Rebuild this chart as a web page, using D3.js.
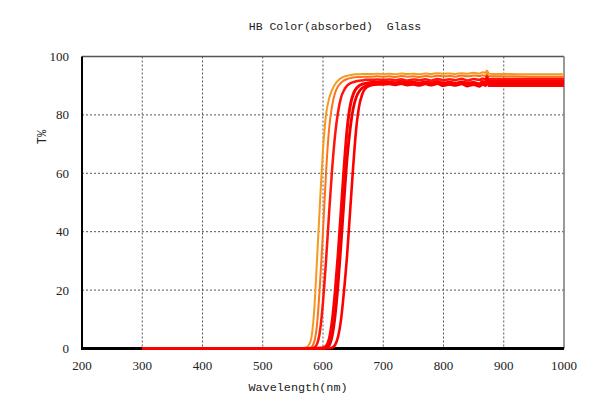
<!DOCTYPE html>
<html><head><meta charset="utf-8">
<script src="https://cdn.jsdelivr.net/npm/d3@7"></script>
<style>body{margin:0;background:#fff}svg{display:block}</style>
</head><body>
<svg id="chart" width="601" height="402"></svg>
<script>
const title = "HB Color(absorbed)  Glass";
const xLabel = "Wavelength(nm)";
const yLabel = "T%";
const xTicks = [200, 300, 400, 500, 600, 700, 800, 900, 1000];
const yTicks = [0, 20, 40, 60, 80, 100];
const wavelength = [300,400,500,550,560,570,575,580,585,590,595,600,605,610,615,620,625,630,635,640,645,650,655,660,665,670,680,690,700,710,720,730,740,750,760,770,780,790,800,810,820,830,840,850,860,865,870,872,875,880,900,950,1000];
const seriesA = [0,0,0,0,0.1,0.3,0.8,3,12,30,50,68,80,85.5,88.5,90.5,91.8,92.6,93.1,93.4,93.6,93.8,93.9,93.9,94,94,94,94.1,94,94.1,93.9,94.2,94.0,94.1,93.9,94.2,94.0,94.3,94.1,94.2,94.0,94.3,94.1,94.4,94.2,94.6,94.4,95.2,94.2,94.0,94.0,93.9,93.9];
const seriesB = [0,0,0,0,0,0.1,0.2,0.4,2,8,22,40,60,75,83,87.5,89.8,91,91.8,92.3,92.6,92.8,92.9,93,93,93.1,93.1,93.2,93.1,93.2,93.0,93.3,93.1,93.2,93.0,93.3,93.1,93.4,93.2,93.3,93.1,93.5,93.2,93.5,93.3,93.6,93.3,94.0,93.2,93.2,93.2,93.1,93.1];
const seriesC = [0,0,0,0,0,0,0,0.1,0.3,1.5,6,16,30,46,61,73,81,86,88.5,90,90.8,91.2,91.5,91.7,91.8,92,92,92.1,92,92.1,91.9,92.2,91.8,92.1,91.9,92.2,91.8,92.3,91.9,92.2,91.9,92.4,91.8,92.3,92.0,92.5,92.1,93.2,92.2,92.3,92.3,92.3,92.3];
const seriesD = [0,0,0,0,0,0,0,0,0,0.1,0.1,0.2,0.8,3,9,19,32,47,62,75,83,87,89,90,90.5,90.8,91.1,91.2,91.2,91.3,91.0,91.4,91.1,91.2,90.9,91.3,91.0,91.4,90.9,91.2,90.8,91.3,90.9,91.1,90.7,91.4,90.9,92.6,91.4,91.4,91.4,91.4,91.4];
const seriesE = [0,0,0,0,0,0,0,0,0,0,0.1,0.1,0.3,1,4,11,22,36,51,65,75,82,86,88,89.2,89.8,90.3,90.5,90.5,90.6,90.3,90.7,90.2,90.5,90.1,90.6,90.2,90.7,90.0,90.5,90.1,90.6,89.9,90.4,89.8,90.5,90.0,91.8,90.6,90.6,90.6,90.6,90.6];
const seriesF = [0,0,0,0,0,0,0,0,0,0,0,0,0.1,0.1,0.3,1.2,4,10,20,32,47,62,75,83,87,89,90.2,90.6,90.8,90.9,90.6,91.0,90.5,90.8,90.4,90.9,90.5,91.0,90.3,90.8,90.4,90.9,90.2,90.7,90.1,90.8,90.3,92.2,90.0,90.0,90.0,90.0,90.0];
const seriesList = [seriesA, seriesB, seriesC, seriesD, seriesE, seriesF];
const colors = ["#F49A1E", "#FF7218", "#FF140A", "#FF0000", "#EE0000", "#FF0000"];
const widths = [2, 2, 2.5, 3, 2.8, 2.6];

const svg = d3.select("#chart");
const L = 82, R = 564, T = 56.5, B = 348.5;
const x = d3.scaleLinear().domain([200, 1000]).range([L, R]);
const y = d3.scaleLinear().domain([0, 100]).range([B, T]);

// grid
svg.append("g").selectAll("line").data(xTicks.slice(1, -1)).join("line")
  .attr("x1", d => x(d)).attr("x2", d => x(d)).attr("y1", T).attr("y2", B)
  .attr("stroke", "#555").attr("stroke-width", 1).attr("stroke-dasharray", "2,2");
svg.append("g").selectAll("line").data(yTicks.slice(1, -1)).join("line")
  .attr("y1", d => y(d)).attr("y2", d => y(d)).attr("x1", L).attr("x2", R)
  .attr("stroke", "#555").attr("stroke-width", 1).attr("stroke-dasharray", "2,2");

// border top/right
svg.append("line").attr("x1", L).attr("x2", R).attr("y1", T).attr("y2", T).attr("stroke", "#555").attr("stroke-width", 1.5);
svg.append("line").attr("x1", R).attr("x2", R).attr("y1", T).attr("y2", B).attr("stroke", "#777").attr("stroke-width", 1.5);

// axes lines
svg.append("line").attr("x1", L).attr("x2", L).attr("y1", T).attr("y2", B + 1).attr("stroke", "#000").attr("stroke-width", 2);
svg.append("line").attr("x1", L - 1).attr("x2", R).attr("y1", B).attr("y2", B).attr("stroke", "#000").attr("stroke-width", 3);

// curves
const line = d3.line().x((d, i) => x(wavelength[i])).y(d => y(d)).curve(d3.curveMonotoneX);
svg.append("g").attr("fill", "none").selectAll("path").data(seriesList).join("path")
  .attr("d", d => line(d)).attr("stroke", (d, i) => colors[i]).attr("stroke-width", (d, i) => widths[i])
  .attr("stroke-linejoin", "round");

// tick labels
svg.append("g").selectAll("text").data(xTicks).join("text")
  .attr("x", d => x(d)).attr("y", 370).attr("text-anchor", "middle")
  .attr("font-family", "Liberation Serif, serif").attr("font-size", 13).attr("fill", "#222").text(d => d);
svg.append("g").selectAll("text").data(yTicks).join("text")
  .attr("x", 69).attr("y", d => y(d) + 4.5).attr("text-anchor", "end")
  .attr("font-family", "Liberation Serif, serif").attr("font-size", 13).attr("fill", "#222").text(d => d);

svg.append("text").attr("x", 335).attr("y", 30).attr("text-anchor", "middle")
  .attr("font-family", "Liberation Mono, monospace").attr("font-size", 11.5).attr("fill", "#222")
  .attr("xml:space", "preserve").style("white-space", "pre").text(title);
svg.append("text").attr("x", 298).attr("y", 391).attr("text-anchor", "middle")
  .attr("font-family", "Liberation Mono, monospace").attr("font-size", 11.8).attr("fill", "#222").text(xLabel);
svg.append("text").attr("transform", "translate(46,137) rotate(-90)").attr("text-anchor", "middle")
  .attr("font-family", "Liberation Mono, monospace").attr("font-size", 12).attr("fill", "#222").text(yLabel);
</script>
</body></html>
